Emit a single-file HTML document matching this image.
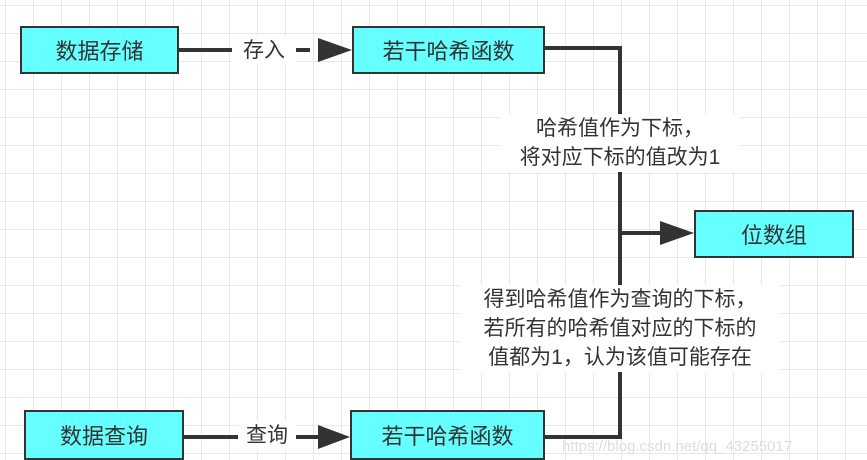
<!DOCTYPE html>
<html><head><meta charset="utf-8"><style>
body{margin:0;width:867px;height:454px;overflow:hidden;background:#fff;
background-image:linear-gradient(#e8e8e8 1px,transparent 1px),linear-gradient(90deg,#e8e8e8 1px,transparent 1px);
background-size:28px 28px;background-position:5px 5px;font-family:"Liberation Sans","Noto Sans CJK SC",sans-serif;position:relative}
.b{position:absolute;background:#66ffff;border:2px solid #333;box-sizing:border-box;display:flex;align-items:center;justify-content:center;font-size:22px;color:#333}
.t{position:absolute;background:#fff;font-size:21px;color:#333;text-align:center;line-height:29px}
</style></head><body>
<svg width="867" height="454" style="position:absolute;left:0;top:0">
<g stroke="#333" stroke-width="4" fill="none">
<line x1="179" y1="50" x2="310" y2="50"/>
<polyline points="545,48 620,48 620,437 545,437"/>
<line x1="620" y1="233" x2="676" y2="233"/>
<line x1="184" y1="437" x2="332" y2="437"/>
</g>
<g fill="#333">
<polygon points="352,50 318,38 318,62"/>
<polygon points="694,233 660,221 660,245"/>
<polygon points="350,437 318,425 318,449"/>
</g>
</svg>
<div class="b" style="left:20px;top:26px;width:159px;height:48px">数据存储</div>
<div class="b" style="left:352px;top:26px;width:193px;height:48px">若干哈希函数</div>
<div class="b" style="left:694px;top:210px;width:160px;height:48px">位数组</div>
<div class="b" style="left:24px;top:410px;width:160px;height:50px">数据查询</div>
<div class="b" style="left:350px;top:410px;width:195px;height:50px">若干哈希函数</div>
<div class="t" style="left:232px;top:36px;width:64px">存入</div>
<div class="t" style="left:238px;top:421px;width:58px">查询</div>
<div class="t" style="left:500px;top:114px;width:240px">哈希值作为下标，<br>将对应下标的值改为1</div>
<div class="t" style="left:460px;top:285px;width:320px">得到哈希值作为查询的下标，<br>若所有的哈希值对应的下标的<br>值都为1，认为该值可能存在</div>
<div style="position:absolute;left:562px;top:438px;font-size:15px;color:#ddd">https://blog.csdn.net/qq_43255017</div>
</body></html>
